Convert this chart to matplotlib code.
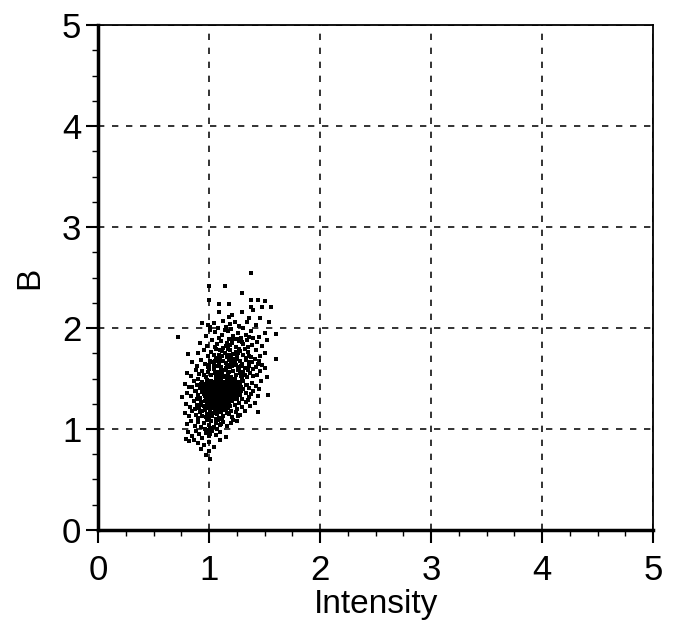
import matplotlib
matplotlib.use("Agg")
import matplotlib.pyplot as plt
from matplotlib.ticker import MultipleLocator

plt.rcParams['font.family'] = ['Liberation Sans', 'DejaVu Sans']

# points, in data units (Intensity, B)
outer_pts = [
 (1.38,2.54),(1.14,2.42),(1.00,2.42),(1.30,2.35),
 (1.38,2.28),(1.44,2.28),(1.50,2.27),(1.00,2.28),(1.09,2.24),(1.18,2.24),(1.38,2.21),(1.40,2.18),(1.48,2.21),(1.56,2.21),(1.09,2.16),(1.30,2.16),(1.21,2.13),(1.18,2.11),
 (1.13,2.07),(1.36,2.10),(1.46,2.10),(1.54,2.06),(1.34,2.06),(1.23,2.06),(1.04,2.05),(0.94,2.05),(1.27,2.02),(1.15,2.01),(1.42,2.03),(1.01,2.01),(0.99,2.03),(1.19,2.04),(1.31,2.00),(1.08,2.00),
 (0.72,1.91),(1.60,1.94),(1.05,1.96),(1.12,1.93),(1.17,1.97),(1.22,1.92),(1.26,1.95),(1.33,1.93),(1.38,1.97),(1.45,1.91),(1.50,1.95),(0.97,1.92),(1.01,1.98),(1.09,1.90),(1.29,1.90),(1.36,1.91),(1.20,1.99),(1.14,1.98),
 (0.92,1.85),(0.98,1.82),(1.03,1.88),(1.07,1.84),(1.11,1.87),(1.15,1.82),(1.18,1.89),(1.21,1.85),(1.24,1.81),(1.27,1.87),(1.31,1.84),(1.34,1.88),(1.39,1.83),(1.43,1.86),(1.48,1.82),(1.52,1.88),(1.13,1.80),(1.25,1.89),(1.05,1.81),(1.35,1.81),(1.19,1.83),
 (0.81,1.74),(1.60,1.69),(0.90,1.75),(0.95,1.78),(0.99,1.72),(1.02,1.76),(1.06,1.79),(1.09,1.73),(1.12,1.77),(1.16,1.71),(1.19,1.78),(1.22,1.74),(1.25,1.72),(1.28,1.77),(1.31,1.73),(1.35,1.76),(1.38,1.71),(1.42,1.78),(1.46,1.72),(1.50,1.75),(1.08,1.70),(1.14,1.75),(1.20,1.72),(1.27,1.79),(1.33,1.70),(1.04,1.73),(1.17,1.79),(1.24,1.76),
 (0.85,1.66),(0.89,1.62),(0.93,1.68),(0.96,1.64),(0.99,1.61),(1.01,1.67),(1.04,1.63),(1.06,1.69),(1.09,1.65),(1.11,1.61),(1.13,1.67),(1.16,1.63),(1.18,1.68),(1.21,1.62),(1.23,1.66),(1.26,1.61),(1.28,1.67),(1.30,1.64),(1.33,1.68),(1.36,1.62),(1.39,1.66),(1.42,1.61),(1.45,1.67),(1.48,1.63),(1.10,1.69),(1.20,1.65),(1.25,1.69),(1.15,1.60),(1.03,1.66),(1.32,1.60),(1.07,1.62),(1.19,1.61),
 (0.80,1.55),(0.84,1.52),(0.88,1.58),(0.91,1.54),(0.94,1.57),(0.97,1.51),(0.99,1.56),(1.02,1.53),(1.04,1.59),(1.06,1.52),(1.08,1.56),(1.10,1.50),(1.12,1.54),(1.14,1.58),(1.16,1.52),(1.18,1.56),(1.20,1.51),(1.22,1.57),(1.24,1.53),(1.26,1.58),(1.29,1.52),(1.31,1.56),(1.34,1.51),(1.37,1.55),(1.40,1.59),(1.43,1.53),(1.46,1.57),(1.52,1.51),(1.05,1.55),(1.11,1.58),(1.17,1.54),(1.23,1.50),(1.28,1.55),(1.00,1.59),(0.95,1.53),(1.13,1.51),(1.35,1.58),(1.09,1.53),
 (0.78,1.45),(0.82,1.42),(0.86,1.48),(0.89,1.44),(0.92,1.41),(0.94,1.47),(0.96,1.43),(0.98,1.49),(1.00,1.45),(1.01,1.41),(1.03,1.47),(1.04,1.43),(1.06,1.49),(1.07,1.44),(1.08,1.40),(1.09,1.46),(1.10,1.42),(1.11,1.48),(1.12,1.44),(1.13,1.41),(1.14,1.47),(1.15,1.43),(1.16,1.49),(1.17,1.45),(1.18,1.41),(1.19,1.47),(1.21,1.43),(1.22,1.48),(1.24,1.44),(1.26,1.41),(1.27,1.46),(1.29,1.42),(1.31,1.48),(1.33,1.44),(1.36,1.41),(1.39,1.46),(1.42,1.43),(1.47,1.48),(1.02,1.44),(1.05,1.46),(1.08,1.48),(1.11,1.45),(1.14,1.44),(1.06,1.42),(1.20,1.46),(0.99,1.42),(1.23,1.41),(1.16,1.40),
 (0.76,1.32),(0.80,1.36),(0.84,1.33),(0.87,1.38),(0.90,1.34),(0.92,1.31),(0.94,1.37),(0.96,1.33),(0.97,1.39),(0.99,1.35),(1.00,1.31),(1.01,1.37),(1.02,1.33),(1.03,1.39),(1.04,1.35),(1.05,1.31),(1.06,1.37),(1.07,1.33),(1.08,1.39),(1.09,1.35),(1.10,1.31),(1.11,1.37),(1.12,1.33),(1.13,1.39),(1.14,1.35),(1.15,1.31),(1.16,1.37),(1.17,1.33),(1.18,1.39),(1.19,1.35),(1.20,1.31),(1.22,1.36),(1.24,1.32),(1.26,1.38),(1.28,1.34),(1.30,1.30),(1.33,1.36),(1.36,1.32),(1.40,1.38),(1.44,1.33),(1.53,1.34),(1.01,1.34),(1.03,1.36),(1.05,1.34),(1.07,1.36),(1.09,1.32),(1.11,1.34),(1.13,1.36),(1.15,1.34),(1.04,1.32),(1.08,1.30),(1.12,1.38),(1.06,1.35),(1.10,1.36),(0.98,1.37),(1.02,1.30),
 (0.79,1.25),(0.83,1.22),(0.86,1.28),(0.89,1.24),(0.91,1.21),(0.93,1.27),(0.95,1.23),(0.97,1.29),(0.98,1.25),(1.00,1.21),(1.01,1.27),(1.02,1.23),(1.03,1.29),(1.04,1.25),(1.05,1.21),(1.06,1.27),(1.07,1.23),(1.08,1.29),(1.09,1.25),(1.10,1.21),(1.11,1.27),(1.12,1.23),(1.13,1.29),(1.14,1.25),(1.15,1.21),(1.17,1.27),(1.19,1.23),(1.21,1.28),(1.23,1.24),(1.25,1.20),(1.27,1.26),(1.30,1.22),(1.33,1.27),(1.37,1.23),(1.41,1.26),(1.02,1.26),(1.04,1.28),(1.06,1.24),(1.08,1.26),(1.10,1.28),(1.12,1.26),(1.05,1.23),(1.09,1.22),(0.99,1.28),(1.13,1.22),
 (0.78,1.16),(0.82,1.13),(0.85,1.18),(0.88,1.14),(0.90,1.11),(0.92,1.17),(0.94,1.13),(0.96,1.19),(0.98,1.15),(1.00,1.11),(1.01,1.17),(1.03,1.13),(1.05,1.19),(1.07,1.15),(1.09,1.11),(1.11,1.17),(1.13,1.13),(1.15,1.19),(1.18,1.15),(1.21,1.12),(1.24,1.17),(1.28,1.14),(1.32,1.18),(1.44,1.17),(1.04,1.16),(1.08,1.18),(1.02,1.14),(1.12,1.10),(0.97,1.12),
 (0.80,1.05),(0.84,1.08),(0.87,1.03),(0.90,1.07),(0.93,1.02),(0.95,1.06),(0.98,1.09),(1.00,1.04),(1.02,1.08),(1.04,1.02),(1.06,1.06),(1.08,1.09),(1.10,1.04),(1.13,1.07),(1.16,1.03),(1.20,1.06),(1.25,1.08),(1.01,1.01),(0.96,1.00),(1.07,1.00),
 (0.81,0.97),(0.85,0.93),(0.88,0.98),(0.91,0.95),(0.94,0.91),(0.97,0.96),(1.00,0.93),(1.03,0.98),(1.06,0.94),(1.10,0.97),(1.15,0.92),(0.99,0.99),(1.01,0.95),
 (0.79,0.90),(0.82,0.88),(0.90,0.86),(1.10,0.89),(0.97,0.74),(1.01,0.70),(0.95,0.84),(1.00,0.87),(1.04,0.82),(0.93,0.80),(1.00,0.78),(0.86,0.89),
]
core_pts = [
 (0.96,1.45),(0.97,1.40),(0.98,1.33),(0.99,1.26),(1.00,1.38),(1.00,1.28),(1.01,1.43),(1.01,1.24),(1.02,1.39),(1.02,1.35),(1.03,1.42),(1.03,1.27),(1.03,1.21),(1.04,1.38),(1.04,1.30),(1.05,1.44),(1.05,1.37),(1.05,1.28),(1.06,1.40),(1.06,1.32),(1.06,1.22),(1.07,1.46),(1.07,1.38),(1.07,1.29),(1.08,1.42),(1.08,1.34),(1.08,1.24),(1.09,1.44),(1.09,1.38),(1.09,1.28),(1.10,1.40),(1.10,1.33),(1.10,1.25),(1.11,1.43),(1.11,1.30),(1.11,1.22),(1.12,1.41),(1.12,1.36),(1.12,1.29),(1.13,1.45),(1.13,1.32),(1.13,1.26),(1.14,1.38),(1.14,1.29),(1.14,1.23),(1.15,1.46),(1.15,1.37),(1.15,1.27),(1.16,1.42),(1.16,1.33),(1.16,1.25),(1.17,1.39),(1.17,1.30),(1.18,1.44),(1.18,1.35),(1.18,1.27),(1.19,1.41),(1.19,1.31),(1.20,1.38),(1.20,1.28),(1.21,1.45),(1.21,1.33),(1.22,1.40),(1.22,1.30),(1.23,1.37),(1.23,1.47),(1.24,1.35),(1.25,1.42),(1.25,1.30),(1.26,1.47),(1.27,1.36),(1.28,1.44),(1.29,1.38),(1.30,1.50),(1.31,1.40),(0.95,1.35),(0.96,1.28),(0.97,1.22),(0.94,1.41),(1.08,1.20),(1.12,1.19),(1.17,1.21),(1.02,1.48),(1.10,1.47),(1.19,1.50),(1.24,1.53),(1.27,1.60),(1.30,1.56),(1.14,1.52),(1.06,1.55),
 (1.15,1.65),(1.22,1.69),(1.29,1.62),(1.36,1.66),(1.12,1.72),(1.26,1.75),(1.32,1.79),(1.18,1.73),(1.05,1.67),(1.00,1.63),(1.24,1.63),(1.41,1.69),(1.30,1.86),(1.22,1.89),(1.16,1.85),(1.40,1.90),(1.10,1.78),(1.36,1.72),(1.44,1.64),(1.50,1.60),(0.90,1.50),(0.93,1.45),(0.88,1.38),(0.85,1.42),(0.92,1.24),(0.89,1.30),(0.87,1.20),(0.94,1.18),(1.16,1.16),(1.20,1.18),(1.26,1.13),(1.22,1.09),(1.06,1.10),(1.11,1.05),(1.35,1.29),(1.38,1.35),(1.34,1.44),(1.45,1.40),(1.40,1.52),(1.32,1.53),
]
all_pts = outer_pts + core_pts
intensity = [p[0] for p in all_pts]
b_values = [p[1] for p in all_pts]

tick_values = [0, 1, 2, 3, 4, 5]
tick_labels = ['0', '1', '2', '3', '4', '5']

fig = plt.figure(figsize=(6.81, 6.32), dpi=100)
ax = fig.add_axes([0.144, 0.1614, 0.815, 0.799])

ax.scatter(intensity, b_values, s=6, marker='s', color='black', linewidths=0, zorder=3)

ax.set_xlim(0, 5)
ax.set_ylim(0, 5)
ax.set_xticks(tick_values)
ax.set_xticklabels(tick_labels)
ax.set_yticks(tick_values)
ax.set_yticklabels(tick_labels)
ax.xaxis.set_minor_locator(MultipleLocator(0.25))
ax.yaxis.set_minor_locator(MultipleLocator(0.25))

ax.grid(True, which='major', color='#111111', linestyle=(0, (3.8, 4.6)), linewidth=1.2)
ax.tick_params(which='major', direction='out', length=9, width=1.5, labelsize=25, colors='black')
ax.tick_params(axis='x', which='major', pad=8)
ax.tick_params(axis='y', which='major', pad=3)
ax.tick_params(which='minor', direction='out', length=4, width=1)

for side in ['left', 'bottom']:
    ax.spines[side].set_linewidth(2.5)
for side in ['top', 'right']:
    ax.spines[side].set_linewidth(1.3)

ax.set_xlabel('Intensity', fontsize=24, labelpad=2)
ax.set_ylabel('B', fontsize=24, labelpad=12)

fig.savefig('out.png', dpi=100)
